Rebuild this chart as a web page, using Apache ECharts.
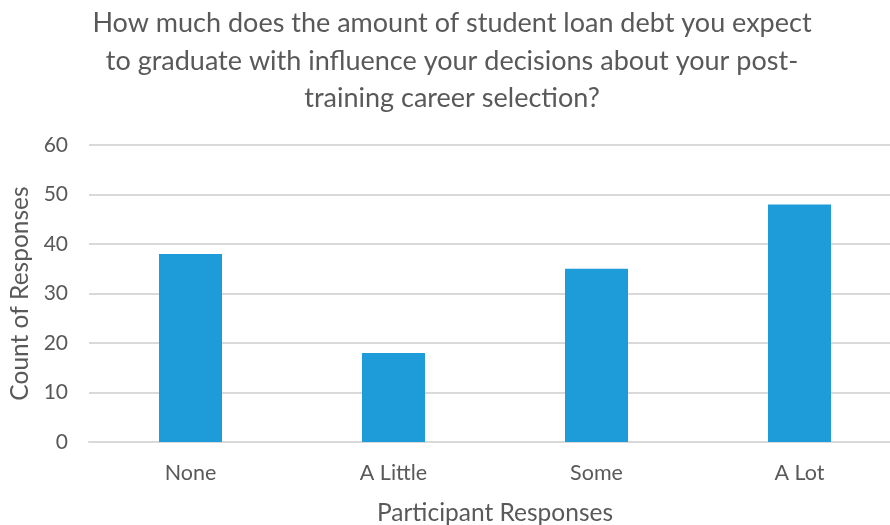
<!DOCTYPE html>
<html><head><meta charset="utf-8">
<script src="https://cdn.jsdelivr.net/npm/echarts@6/dist/echarts.min.js"></script>
<style>html,body{margin:0;padding:0;background:#fff}#c{width:890px;height:525px}</style>
</head><body><div id="c"></div>
<script>
const categories = ['None', 'A Little', 'Some', 'A Lot'];
const counts = [38, 18, 35, 48];
const yTicks = [0, 10, 20, 30, 40, 50, 60];
const titleLines = ['How much does the amount of student loan debt you expect', 'to graduate with influence your decisions about your post-', 'training career selection?'];
const FONT = 'Lato';
const chart = echarts.init(document.getElementById('c'));
chart.setOption({
  animation: false,
  title: {
    text: titleLines.join('\n'),
    left: 447, top: 0, textAlign: 'center',
    textStyle: { fontFamily: FONT, fontSize: 27, fontWeight: 'normal', color: '#595959', lineHeight: 37.5 }
  },
  grid: { left: 89, top: 145, width: 812, height: 297, containLabel: false, outerBoundsMode: 'none' },
  xAxis: {
    type: 'category', data: categories,
    name: 'Participant Responses', nameLocation: 'middle', nameGap: 59,
    nameTextStyle: { fontFamily: FONT, fontSize: 24.5, color: '#595959' },
    axisLine: { lineStyle: { color: '#d9d9d9', width: 2 } },
    axisTick: { show: false },
    axisLabel: { fontFamily: FONT, fontSize: 21.5, color: '#595959', margin: 20 }
  },
  yAxis: {
    type: 'value', min: yTicks[0], max: yTicks[yTicks.length - 1], interval: 10,
    name: 'Count of Responses', nameLocation: 'middle', nameGap: 56, nameRotate: 90,
    nameTextStyle: { fontFamily: FONT, fontSize: 24.5, color: '#595959' },
    axisLine: { show: false }, axisTick: { show: false },
    splitLine: { lineStyle: { color: '#d9d9d9', width: 2 } },
    axisLabel: { fontFamily: FONT, fontSize: 21, color: '#595959', margin: 21 }
  },
  series: [{
    type: 'bar', data: counts, barWidth: 63,
    itemStyle: { color: '#1E9CD9' }
  }]
});
</script></body></html>
